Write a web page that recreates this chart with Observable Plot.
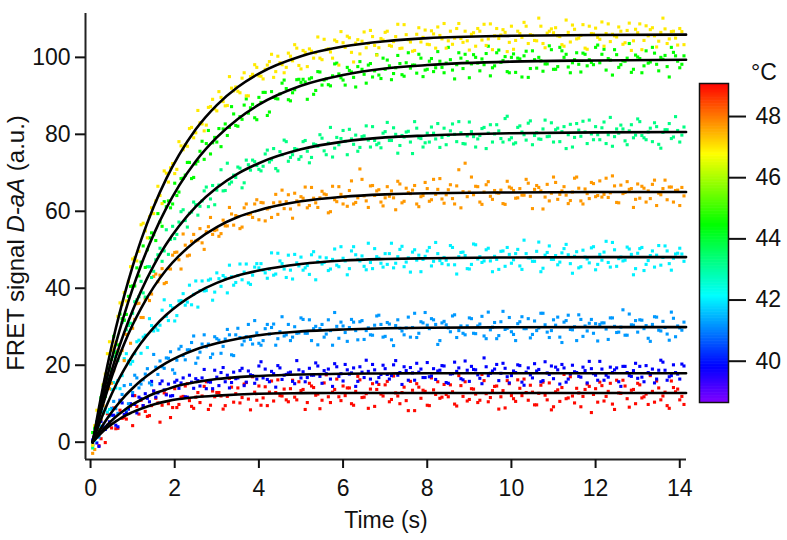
<!DOCTYPE html>
<html><head><meta charset="utf-8">
<script src="https://cdn.jsdelivr.net/npm/d3@7"></script>
<script src="https://cdn.jsdelivr.net/npm/@observablehq/plot@0.6"></script>
<style>
body{margin:0;background:#fff;}
#wrap{position:relative;width:787px;height:540px;font-family:"Liberation Sans",Arial,sans-serif;}
#wrap svg{position:absolute;left:0;top:0;}
</style></head><body><div id="wrap"></div>
<script>
// sample grids: readings every 0.1 s, and the interleaved readings half a step later
const sampleTimes = d3.range(1, 142).map(i => i / 10);
const halfTimes = d3.range(0, 141).map(i => (i + 0.5) / 10);

const seriesNames = ["49.0 °C", "39.8 °C", "41.2 °C", "42.0 °C", "47.7 °C", "43.3 °C", "44.5 °C", "47.0 °C"];
const seriesTemps = [49.0, 39.8, 41.2, 42.0, 47.7, 43.25, 44.45, 46.95];

const redPts = [
2.5,-0.9,3.4,7.4,3.7,3.5,8.3,6.4,8.7,4.3,
9.3,10.9,8.0,6.9,13.3,10.2,9.6,12.5,6.4,13.9,
9.8,11.9,15.2,9.3,11.7,10.3,14.5,8.5,13.3,12.9,
12.0,9.5,16.6,10.4,14.1,11.6,15.5,8.4,13.0,14.6,
11.5,9.5,15.9,12.9,12.1,13.8,10.5,16.1,11.0,13.4,
8.5,15.3,14.2,12.5,10.9,17.5,10.3,13.7,11.8,14.6,
14.1,10.0,13.2,16.2,11.7,8.8,15.2,13.7,12.5,14.9,
10.5,17.2,12.0,12.9,10.8,15.8,8.2,14.3,13.5,9.6,
16.7,12.4,11.4,15.0,11.8,13.1,9.4,14.7,15.7,11.1,
13.8,10.3,17.6,12.6,11.6,14.5,8.6,13.4,16.0,12.1,
10.6,14.0,16.4,10.9,13.0,9.7,14.8,12.2,15.4,9.2,
13.6,14.2,11.3,17.0,10.2,12.8,11.9,15.1,7.7,13.9,
15.6,10.7,13.2,9.9,16.1,12.7,14.6,9.1,13.7,15.3,
11.5,12.5,17.3,10.4,14.1,12.0,9.5,15.9,13.1,11.0,
9.8];
const redPtsHalf = [
-0.6,4.1,0.9,-0.1,5.0,8.9,3.6,6.2,6.0,9.4,
12.1,7.3,9.5,6.7,9.5,11.4,5.2,12.8,10.0,9.0,
9.0,11.7,14.6,10.8,8.8,12.9,12.0,15.7,9.6,11.8,
12.9,8.6,11.9,14.3,12.6,10.2,15.1,11.2,17.0,10.9,
9.6,14.4,13.0,10.7,16.2,12.0,11.0,13.9,11.7,15.7,
13.7,10.3,14.6,12.2,8.7,15.4,11.8,13.0,16.4,10.8,
12.1,14.1,9.6,17.1,11.6,12.6,13.8,9.3,15.0,12.0,
15.8,11.1,12.8,10.0,14.3,8.2,13.5,15.2,11.4,13.2,
9.5,13.6,15.7,11.7,12.4,14.9,9.9,17.3,11.9,10.7,
13.9,12.5,10.9,16.0,10.5,13.4,14.6,11.8,8.9,15.2,
11.3,16.2,12.1,12.9,14.8,9.7,12.7,15.6,11.0,8.4,
13.1,10.6,17.6,11.5,12.0,14.0,9.2,13.7,14.5,12.4,
10.4,14.7,11.9,15.3,8.5,12.8,16.1,11.3,13.5,10.0,
14.9,11.8,9.8,13.2,15.9,11.0,13.0,8.8,14.2,13.8,
11.9];
const bluePts = [
2.4,-1.1,4.0,4.4,7.0,4.4,10.9,7.2,8.6,12.1,
7.6,11.3,12.6,10.5,13.3,12.8,15.9,12.3,12.0,15.6,
14.0,16.7,11.7,15.6,16.5,14.6,18.9,15.7,13.9,16.9,
18.1,15.7,14.1,18.2,16.7,19.2,15.6,17.5,15.3,19.8,
16.7,16.3,18.4,14.3,19.3,17.4,18.0,15.8,21.2,16.7,
15.7,19.2,17.4,19.8,15.3,17.8,16.4,20.4,17.1,15.9,
18.8,18.0,14.5,19.6,16.8,18.4,20.2,15.6,17.6,19.1,
16.4,20.1,17.4,15.0,18.6,19.4,16.1,18.2,16.8,20.7,
17.2,16.3,18.7,19.8,15.3,17.8,18.4,16.5,21.1,15.8,
18.9,17.5,15.2,19.6,17.9,19.0,16.0,20.5,17.0,17.3,
18.1,19.9,14.8,19.3,16.7,18.5,15.7,20.9,17.6,16.5,
18.8,20.2,15.6,17.7,18.3,17.1,19.5,15.4,19.1,17.4,
21.0,16.1,16.9,18.1,19.3,14.5,19.7,17.3,18.6,16.6,
16.9,19.9,17.6,15.4,18.7,20.8,16.1,17.3,18.1,16.4,
19.8];
const bluePtsHalf = [
0.6,-0.2,5.4,3.3,5.3,7.0,4.0,10.2,7.7,10.0,
9.8,11.7,9.5,11.4,15.8,11.7,15.2,13.6,15.1,12.1,
16.1,15.4,11.8,17.4,14.0,16.0,16.7,13.9,15.6,18.7,
14.7,19.4,17.4,15.5,16.5,18.6,14.7,18.5,17.3,16.4,
20.9,19.0,15.7,17.8,19.9,16.3,17.6,18.2,15.2,18.8,
18.3,16.8,17.4,20.6,17.1,18.6,19.0,14.5,19.6,17.8,
20.2,17.7,19.3,15.8,18.2,21.3,16.4,18.8,16.8,20.0,
17.6,17.3,21.2,18.1,19.6,16.1,18.0,20.5,19.0,16.8,
17.0,19.1,18.5,19.9,15.5,17.7,20.8,19.3,16.2,18.7,
19.7,18.8,16.6,21.9,17.3,18.5,20.2,17.9,19.2,15.4,
18.5,20.1,15.6,18.2,17.5,20.4,18.9,16.0,18.0,19.8,
19.5,15.1,19.3,16.4,20.0,18.1,16.9,18.6,21.0,17.8,
16.1,19.0,17.4,19.5,18.8,15.7,19.7,18.1,17.1,20.5,
19.7,15.7,18.1,19.0,16.4,21.3,18.7,17.0,20.1,17.7,
20.3];
const lightBluePts = [
1.6,1.3,7.7,4.2,8.8,8.7,10.7,14.7,10.0,12.9,
16.7,15.1,17.7,15.4,22.8,17.6,19.6,21.9,23.5,17.9,
24.2,22.5,24.0,25.9,20.5,23.4,27.9,25.5,22.9,26.9,
23.1,26.8,27.9,22.5,29.6,25.3,27.4,26.7,31.6,25.7,
26.4,30.6,29.8,25.2,28.7,27.6,30.6,27.3,28.3,32.3,
28.3,31.8,29.5,25.3,30.6,28.1,29.0,33.7,27.0,30.2,
26.2,31.9,29.0,31.3,26.7,29.7,27.8,32.8,30.6,27.5,
30.7,25.1,31.8,28.9,29.7,27.3,33.5,28.3,31.0,30.4,
32.1,30.6,26.4,31.4,29.7,32.8,27.2,30.2,27.9,32.3,
28.3,30.2,32.7,26.9,29.2,31.1,27.7,34.0,29.6,28.7,
26.4,31.3,29.5,32.1,28.0,29.0,33.5,30.5,27.2,31.8,
32.5,25.9,31.6,29.3,30.0,33.1,27.5,28.9,31.9,30.8,
30.6,31.0,26.7,32.3,28.5,29.9,27.8,33.3,30.4,28.6,
31.7,30.3,26.2,32.6,29.1,31.4,28.1,33.8,27.4,29.7,
31.2];
const lightBluePtsHalf = [
-0.6,5.3,4.1,3.7,6.8,10.6,7.5,12.4,8.4,15.0,
17.4,14.1,16.2,19.1,14.9,19.5,21.1,19.2,21.8,18.8,
21.3,24.9,21.4,24.0,27.6,21.9,25.5,24.8,22.0,27.4,
26.5,24.9,29.3,22.7,27.9,27.2,26.3,30.6,25.5,28.4,
25.2,29.5,28.1,30.7,26.9,32.6,27.9,26.4,30.0,28.4,
31.9,28.3,26.4,30.1,29.5,27.3,31.8,25.2,30.1,31.2,
28.5,29.8,31.2,26.6,31.6,29.0,27.9,30.4,33.0,27.3,
31.1,26.6,30.3,29.6,27.9,32.5,29.8,27.2,31.3,33.7,
29.5,31.8,25.4,31.0,30.5,28.7,33.1,29.0,28.3,30.2,
32.1,28.2,30.7,27.6,33.8,29.9,26.9,31.3,29.3,32.4,
28.0,30.8,32.6,29.5,27.1,31.5,29.7,33.5,28.6,29.0,
30.4,27.3,31.2,33.0,29.2,26.4,31.9,30.2,30.9,28.3,
26.3,31.0,29.4,32.3,30.1,28.6,34.4,27.8,30.5,31.6,
31.8,29.5,27.0,30.6,32.5,28.9,29.8,26.5,32.2,30.2,
29.1];
const cyanPts = [
0.4,4.3,11.5,7.8,13.7,14.1,13.9,21.7,21.1,21.0,
26.1,23.1,27.8,32.1,28.9,29.1,34.3,32.7,35.5,31.5,
36.7,38.6,36.4,35.7,41.9,39.4,39.3,42.1,36.9,44.0,
40.5,42.7,46.0,40.8,43.3,42.2,46.3,41.0,45.5,45.3,
44.7,42.6,49.2,43.7,47.1,45.0,48.6,42.4,46.6,48.1,
45.3,43.6,49.5,46.9,46.3,47.9,45.0,50.2,45.6,47.8,
43.5,49.7,48.7,47.1,45.7,51.7,45.1,48.2,46.5,49.0,
49.0,45.3,48.2,50.9,46.8,44.2,50.0,48.6,47.5,49.7,
45.8,51.9,47.2,48.0,46.1,50.6,43.7,49.3,48.5,45.0,
51.5,47.6,46.7,50.0,47.1,48.3,44.9,49.7,50.6,46.5,
49.0,45.8,52.5,47.9,47.0,49.6,44.3,48.6,51.0,47.5,
46.1,49.2,51.4,46.4,48.3,45.3,49.9,47.6,50.5,44.8,
48.8,49.4,46.7,51.9,45.7,48.1,47.3,50.2,43.5,49.1,
50.6,46.2,48.5,45.5,51.1,48.0,49.7,44.7,48.9,50.4,
47.0];
const cyanPtsHalf = [
-1.2,1.5,8.5,8.6,8.5,15.5,16.0,17.3,23.0,20.3,
23.0,26.5,27.3,24.6,30.3,29.7,30.4,37.0,31.6,34.9,
32.9,36.8,35.6,40.8,38.4,35.1,41.9,39.4,42.4,39.0,
42.5,43.3,38.8,43.0,41.5,46.3,44.2,41.4,43.4,46.4,
46.4,44.0,44.9,43.4,49.1,46.4,42.8,44.7,48.8,45.8,
44.7,45.9,48.7,42.2,48.1,46.7,44.6,47.5,46.0,50.8,
47.1,45.1,50.8,47.5,48.4,44.8,46.7,50.3,47.8,45.5,
46.2,51.7,46.5,50.1,45.6,47.9,49.4,47.3,44.3,48.3,
50.6,47.0,49.0,46.4,47.3,51.1,46.1,48.2,49.4,45.1,
46.2,51.3,48.2,47.1,50.4,44.3,47.5,49.6,45.7,48.8,
47.4,50.1,44.9,49.0,47.9,47.0,52.0,45.2,49.3,47.5,
48.5,46.8,50.3,48.7,43.9,49.5,45.6,48.1,46.6,50.8,
46.2,47.3,52.2,45.5,50.0,47.7,47.1,50.7,48.8,45.1,
50.3,44.6,47.2,49.7,48.6,46.0,51.0,46.4,47.8,49.1,
48.9];
const orangePts = [
-1.9,3.3,9.5,17.3,15.3,21.1,23.1,21.2,30.4,29.6,
36.0,32.4,37.2,36.8,43.1,41.7,45.1,41.5,45.0,49.3,
47.4,54.1,48.4,52.2,52.3,55.5,50.1,56.0,54.0,55.2,
54.2,56.2,61.0,56.4,58.6,55.9,61.9,59.3,61.9,57.8,
62.2,60.6,58.4,64.4,62.4,60.7,64.3,58.2,62.7,63.8,
66.3,61.5,63.4,61.0,65.2,64.3,59.9,63.0,66.4,61.9,
61.3,67.9,62.3,71.0,64.0,61.0,66.7,65.3,62.4,63.5,
63.9,63.5,67.8,62.2,66.0,64.6,66.7,61.2,64.1,65.9,
63.0,64.4,68.5,62.1,65.6,63.3,66.6,60.9,72.5,65.0,
64.3,66.4,61.8,66.9,63.9,65.4,64.7,62.0,67.8,66.0,
63.4,65.9,64.2,67.3,60.7,66.7,65.3,63.7,62.7,68.9,
63.1,65.3,64.2,62.8,68.6,66.0,61.9,64.6,67.5,63.8,
67.9,64.4,63.6,69.2,62.3,66.8,64.9,65.7,61.0,67.1,
66.5,62.4,63.3,68.1,64.7,65.9,63.0,66.3,65.4,61.5,
64.0];
const orangePtsHalf = [
-2.9,4.8,6.0,16.3,13.9,18.6,23.9,23.8,28.0,25.7,
31.9,36.1,32.4,37.6,38.5,43.7,43.4,41.2,45.1,48.6,
49.4,45.0,51.2,48.6,54.0,52.5,51.8,54.7,58.4,55.0,
53.5,57.7,56.2,59.3,58.9,55.5,60.9,59.2,58.4,63.0,
62.3,57.5,60.9,62.2,59.2,65.5,62.5,60.6,64.7,61.7,
63.4,60.9,66.2,62.2,63.5,64.5,59.6,66.5,62.5,64.4,
63.7,65.4,61.9,63.5,68.3,62.7,66.6,64.1,65.6,61.4,
66.4,65.3,60.4,67.1,62.6,64.9,65.5,61.9,63.8,67.5,
62.6,68.3,65.7,63.2,64.3,66.9,61.9,70.8,65.1,63.8,
68.9,66.5,62.4,65.0,67.7,63.1,64.8,65.5,61.8,66.3,
65.4,63.5,64.2,68.3,63.9,65.7,66.2,60.6,67.0,64.7,
67.5,64.4,66.4,62.0,65.0,68.9,62.7,65.8,63.3,67.2,
64.1,63.7,68.6,64.8,66.6,62.2,64.6,67.7,65.9,63.1,
63.4,66.0,65.3,67.0,61.5,64.3,68.1,66.3,62.4,65.5,
66.2];
const midGreenPts = [
3.6,6.2,7.5,16.9,18.6,23.5,23.0,31.7,30.3,33.5,
37.0,41.8,37.7,45.6,44.4,48.7,47.0,55.2,52.7,52.9,
57.2,60.4,55.9,59.8,61.7,61.3,65.3,61.2,66.7,65.5,
70.8,65.4,67.1,69.4,71.5,66.1,73.3,70.7,72.9,70.9,
71.7,75.9,73.4,71.1,75.5,78.5,73.0,74.7,76.1,74.2,
78.4,72.6,77.5,76.9,79.0,74.7,81.8,76.4,77.3,81.0,
74.7,78.8,79.8,76.6,79.6,78.5,82.0,77.3,76.5,80.7,
78.4,81.7,75.1,79.7,80.6,78.0,83.3,79.1,76.7,80.3,
81.9,78.8,76.6,81.6,79.7,82.7,78.1,80.4,77.5,83.2,
79.4,78.8,81.5,76.3,82.5,80.1,80.9,78.0,84.7,79.1,
77.8,82.2,79.9,82.9,77.3,80.4,78.7,83.7,79.5,78.0,
81.6,80.7,76.3,82.6,79.2,81.1,83.4,77.6,80.1,82.0,
78.6,83.2,79.9,76.9,81.4,82.4,78.3,80.9,79.1,84.0,
79.7,78.6,81.6,83.0,77.4,80.5,81.2,78.9,84.6,78.0,
81.9];
const midGreenPtsHalf = [
-1.5,5.2,11.4,11.9,16.3,22.3,21.2,31.1,29.2,30.9,
36.5,37.8,38.8,45.6,42.8,47.4,50.4,49.7,48.8,56.1,
54.0,59.9,57.6,59.5,62.4,59.0,62.7,66.3,63.2,61.7,
66.8,65.3,72.5,67.6,68.8,71.2,67.4,72.1,73.3,71.9,
70.5,74.9,72.8,76.3,70.5,74.7,78.1,74.0,76.3,73.5,
78.1,75.6,74.0,77.3,79.9,75.7,77.7,74.1,79.2,78.9,
78.2,81.3,77.4,75.6,79.4,82.2,76.7,78.4,77.7,80.3,
83.1,78.4,80.0,77.1,79.3,80.8,75.0,81.6,78.9,77.8,
78.0,80.3,82.8,79.2,77.3,80.9,80.0,83.3,77.6,79.6,
80.7,76.7,79.7,81.8,80.3,78.0,82.5,78.9,84.1,78.6,
77.5,81.8,80.6,78.5,83.5,79.7,78.8,81.4,79.4,83.0,
81.2,78.1,82.0,79.9,76.7,82.8,79.5,80.6,83.7,78.6,
79.9,81.7,77.6,84.4,79.4,80.3,81.4,77.3,82.5,79.8,
83.3,79.1,80.6,78.1,82.0,76.4,81.2,82.8,79.3,81.0,
79.8];
const greenPts = [
3.7,3.1,14.7,16.3,21.5,23.2,33.3,31.7,37.9,40.6,
45.3,46.8,45.4,53.1,53.9,59.4,56.1,61.2,60.9,67.3,
65.0,68.6,72.7,68.5,72.3,75.6,73.5,81.0,77.8,78.0,
76.8,82.7,81.8,85.3,82.1,83.9,89.2,86.9,84.3,89.6,
90.9,84.9,91.1,89.3,90.5,94.1,89.0,90.8,94.2,93.5,
93.6,94.4,90.4,96.3,92.8,94.4,92.6,98.3,95.7,94.1,
97.4,96.2,92.3,98.9,95.6,98.0,94.9,100.7,94.5,96.9,
97.8,95.8,100.5,95.5,98.6,97.2,98.0,100.8,95.0,96.9,
99.7,97.3,99.0,96.0,102.6,96.7,98.1,99.8,100.8,94.7,
100.7,98.5,99.6,101.0,95.2,97.8,101.9,99.2,96.3,100.0,
96.1,99.6,100.4,94.8,101.7,97.2,99.1,98.3,103.0,96.9,
97.6,101.7,100.8,96.0,99.4,98.2,101.1,97.8,98.7,102.6,
98.6,102.1,99.7,95.4,100.7,98.1,99.0,103.6,96.9,100.1,
96.0,101.7,98.8,101.1,96.5,99.5,97.6,102.6,100.4,97.3,
100.4];
const greenPtsHalf = [
2.5,4.6,11.6,11.9,19.3,27.5,25.3,32.1,33.2,40.5,
40.6,43.2,51.0,50.0,54.4,52.4,57.2,62.5,62.7,61.9,
64.1,68.5,69.4,72.7,68.8,73.0,78.2,77.6,74.9,79.2,
81.5,81.4,79.7,87.2,82.3,84.6,87.6,85.5,87.8,83.8,
88.3,90.9,85.8,89.6,89.2,93.3,91.9,88.7,91.6,94.3,
94.3,89.1,94.7,91.4,96.2,94.1,92.9,95.2,98.5,94.7,
92.8,96.6,94.8,97.6,96.9,93.3,98.4,96.5,95.4,99.8,
99.3,94.2,97.3,98.4,95.1,101.2,98.0,95.9,99.8,96.7,
99.0,96.3,101.5,97.4,98.5,99.4,94.4,101.2,97.1,98.9,
98.3,100.0,96.5,98.1,102.9,97.3,101.2,98.7,100.2,96.0,
100.9,99.8,94.9,101.6,97.1,99.4,100.0,96.4,98.3,102.0,
96.9,102.6,100.0,97.5,98.6,101.2,96.2,100.8,99.4,98.1,
103.2,100.8,96.7,99.3,102.0,97.4,99.1,99.8,96.1,100.6,
99.7,97.8,98.5,102.6,98.2,100.0,100.5,94.9,101.3,99.0,
98.2];
const yellowPts = [
4.3,6.5,15.0,23.0,23.9,26.0,36.2,38.9,41.7,47.6,
47.1,56.5,54.9,58.6,59.4,66.5,62.0,69.9,71.3,69.8,
78.1,76.0,76.9,81.8,80.4,83.0,80.9,87.0,89.1,86.1,
89.6,87.4,95.0,91.3,91.2,94.6,90.0,95.0,98.1,95.2,
94.4,98.0,100.8,96.3,98.6,96.0,101.1,99.1,102.4,97.0,
101.3,102.2,99.8,105.3,99.4,102.0,101.4,104.5,98.0,103.8,
105.5,101.3,103.7,100.9,106.6,103.6,105.4,100.6,104.9,106.5,
103.1,104.1,108.6,102.4,105.9,104.0,101.8,107.7,105.2,103.4,
106.9,102.4,105.7,108.8,104.3,103.4,107.5,104.9,106.8,101.9,
106.4,107.5,104.5,103.1,108.7,105.6,104.9,107.2,101.5,108.1,
104.4,106.2,109.1,103.6,105.7,104.3,108.1,102.5,106.8,106.4,
105.6,103.3,109.7,104.0,107.3,105.0,108.5,102.1,106.2,107.6,
104.7,102.9,108.7,106.0,105.3,106.8,103.8,108.9,104.3,106.4,
102.0,108.2,107.2,105.6,104.2,110.2,103.6,106.7,105.0,107.5,
103.3];
const yellowPtsHalf = [
-0.8,8.3,10.2,17.7,26.1,24.8,32.7,35.8,36.7,45.6,
48.0,49.6,56.9,53.1,60.9,62.7,64.1,70.5,67.6,72.4,
70.9,77.0,77.3,81.5,79.1,86.2,82.7,82.4,87.2,86.6,
91.1,88.5,87.5,92.0,92.3,90.8,96.0,90.0,95.6,97.4,
95.1,96.9,98.9,94.8,100.3,98.1,97.4,100.3,103.3,97.9,
101.8,97.6,101.6,101.2,99.8,104.7,102.2,99.8,104.1,106.7,
102.6,105.1,98.8,104.6,104.2,102.5,107.0,103.1,102.5,104.5,
106.8,102.9,105.4,102.3,108.5,104.6,101.6,106.0,104.0,107.1,
103.3,106.1,107.9,104.8,102.4,106.8,105.0,108.8,103.9,104.3,
106.0,102.9,106.8,108.6,104.8,102.0,107.5,105.8,106.5,103.9,
102.1,106.8,105.2,108.1,105.9,104.4,110.2,103.6,106.3,107.4,
107.7,105.4,102.9,106.5,108.4,104.8,105.7,102.4,108.1,106.1,
105.2,109.2,106.2,104.1,105.6,107.9,103.4,107.0,101.8,107.3,
108.7,104.4,105.6,107.7,102.7,106.5,107.4,104.8,106.8,103.2,
106.7];

// fitted curves read at these times
const fitTimes = [0.05,0.2,0.4,0.6,0.8,1.0,1.2,1.5,1.8,2.1,2.5,3.0,3.5,4.0,5.0,6.0,7.0,8.0,10.0,12.0,14.15];
const redFit = [0,1.8,3.8,5.4,6.8,7.8,8.7,9.8,10.6,11.2,11.7,12.1,12.4,12.6,12.75,12.8,12.8,12.8,12.8,12.8,12.8];
const blueFit = [0,2.1,4.5,6.6,8.3,9.8,11.0,12.6,13.7,14.7,15.6,16.4,16.9,17.2,17.6,17.8,17.85,17.9,17.9,17.9,17.9];
const lightBlueFit = [0,2.8,6.2,9.2,11.8,14.0,16.0,18.5,20.6,22.3,24.1,25.7,26.9,27.8,28.8,29.3,29.6,29.75,29.85,29.9,29.9];
const cyanFit = [0,4.6,10.0,14.8,18.9,22.6,25.8,29.8,33.1,35.8,38.7,41.4,43.3,44.6,46.3,47.2,47.6,47.8,48.0,48.1,48.1];
const orangeFit = [0,6.2,13.5,20.0,25.6,30.5,34.8,40.3,44.8,48.4,52.3,55.9,58.5,60.3,62.6,63.8,64.4,64.7,64.9,65.0,65.0];
const midGreenFit = [0,6.7,14.8,22.1,28.5,34.2,39.3,45.9,51.5,56.1,61.2,66.1,69.8,72.5,76.1,78.1,79.2,79.7,80.3,80.5,80.6];
const greenFit = [0,7.7,17.1,25.6,33.1,39.9,46.0,54.0,60.8,66.6,73.0,79.2,84.0,87.7,92.6,95.4,97.1,98.0,98.9,99.2,99.4];
const yellowFit = [0,9.0,19.9,29.6,38.1,45.7,52.5,61.2,68.5,74.6,81.3,87.6,92.3,95.8,100.3,102.8,104.2,105.0,105.6,105.8,105.9];

const xTicks = [0,2,4,6,8,10,12,14];
const yTicks = [0,20,40,60,80,100];
const colorTicks = [40,42,44,46,48];
const tempRange = [38.65, 49.08];

// ---- build tables ----
const ptsBySeries = [redPts, bluePts, lightBluePts, cyanPts, orangePts, midGreenPts, greenPts, yellowPts];
const halfBySeries = [redPtsHalf, bluePtsHalf, lightBluePtsHalf, cyanPtsHalf, orangePtsHalf, midGreenPtsHalf, greenPtsHalf, yellowPtsHalf];
const fitsBySeries = [redFit, blueFit, lightBlueFit, cyanFit, orangeFit, midGreenFit, greenFit, yellowFit];
const points = [];
ptsBySeries.forEach((arr, s) => {
  halfBySeries[s].forEach((v, i) => points.push({t: halfTimes[i], v, temp: seriesTemps[s]}));
  arr.forEach((v, i) => points.push({t: sampleTimes[i], v, temp: seriesTemps[s]}));
});
const fits = [];
fitsBySeries.forEach((arr, s) => arr.forEach((v, i) => fits.push({t: fitTimes[i], v, s: seriesNames[s]})));

const colorScale = {type: "linear", domain: tempRange, interpolate: t => d3.hsl(270 * (1 - t), 1, 0.5).toString()};
const FONT = '"Liberation Sans", Arial, sans-serif';
const xDom = [-0.12, 14.16], yDom = [-4.5, 111.4];

const main = Plot.plot({
  width: 787, height: 540,
  marginLeft: 85, marginRight: 101, marginTop: 13, marginBottom: 81,
  style: {fontFamily: FONT, background: "transparent", color: "#111"},
  x: {domain: xDom, label: null},
  y: {domain: yDom, label: null},
  color: colorScale,
  marks: [
    Plot.dot(points, {x: "t", y: "v", fill: "temp", symbol: "square", r: 1.75}),
    Plot.line(fits, {x: "t", y: "v", z: "s", stroke: "#000", strokeWidth: 2.6, curve: "monotone-x"}),
    Plot.ruleX([xDom[0]], {stroke: "#222", strokeWidth: 2}),
    Plot.ruleY([yDom[0]], {stroke: "#222", strokeWidth: 2}),
    Plot.axisX({ticks: xTicks, tickSize: 9, tickPadding: 11, strokeWidth: 2, fontSize: 23, label: null, tickFormat: d => String(d)}),
    Plot.axisY({ticks: yTicks, tickSize: 10, tickPadding: 5, strokeWidth: 2, fontSize: 23, label: null, tickFormat: d => String(d)})
  ]
});

const cbSlices = d3.range(tempRange[0], tempRange[1], 0.05).map(a => ({a, b: Math.min(a + 0.07, tempRange[1]), m: a + 0.025}));
const cbar = Plot.plot({
  width: 787, height: 540,
  marginLeft: 699, marginRight: 59, marginTop: 83, marginBottom: 138,
  style: {fontFamily: FONT, background: "transparent", color: "#111"},
  x: {domain: [0, 1], axis: null},
  y: {domain: tempRange, label: null},
  color: colorScale,
  marks: [
    Plot.rect(cbSlices, {x1: 0, x2: 1, y1: "a", y2: "b", fill: "m"}),
    Plot.frame({stroke: "#111", strokeWidth: 1.5}),
    Plot.axisY({anchor: "right", ticks: colorTicks, tickSize: 17, tickPadding: 10, strokeWidth: 2, fontSize: 23, label: null})
  ]
});

const wrap = document.getElementById("wrap");
wrap.appendChild(main);
wrap.appendChild(cbar);

// axis titles
const ms = d3.select(main);
const yl = ms.append("text")
  .attr("transform", "translate(24,243) rotate(-90)")
  .attr("text-anchor", "middle")
  .style("font-family", FONT).style("font-size", "24px").attr("fill", "#111");
yl.append("tspan").text("FRET signal ");
yl.append("tspan").style("font-style", "italic").text("D-aA");
yl.append("tspan").text(" (a.u.)");
ms.append("text").attr("x", 386).attr("y", 528).attr("text-anchor", "middle")
  .style("font-family", FONT).style("font-size", "23px").attr("fill", "#111").text("Time (s)");
d3.select(cbar).append("text").attr("x", 764).attr("y", 80).attr("text-anchor", "middle")
  .style("font-family", FONT).style("font-size", "23px").attr("fill", "#111").text("°C");
</script></body></html>
